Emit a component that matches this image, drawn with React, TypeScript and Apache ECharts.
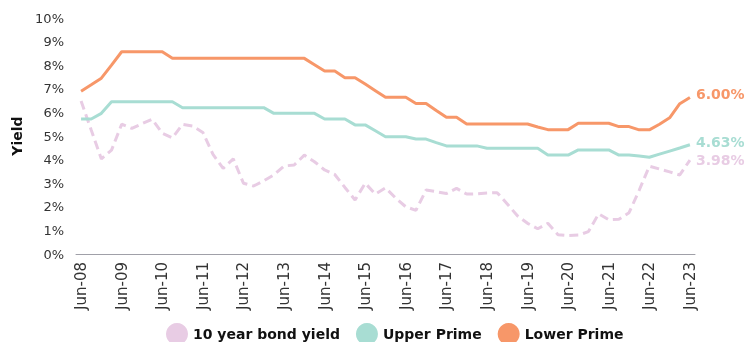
import React, { useEffect, useRef } from 'react';
import * as echarts from 'echarts';

const quarterMonths = ['Jun', 'Sep', 'Dec', 'Mar'];
const categories: string[] = [];
for (let i = 0; i <= 60; i++) {
  const m = quarterMonths[i % 4];
  const y = 8 + Math.floor(i / 4) + (i % 4 === 3 ? 1 : 0);
  categories.push(`${m}-${String(y).padStart(2, '0')}`);
}

const seriesNames = ['10 year bond yield', 'Upper Prime', 'Lower Prime'];

const bondYield = [
  6.48, 5.25, 4.03, 4.40, 5.50, 5.32, 5.52, 5.71, 5.12, 4.92,
  5.49, 5.42, 5.15, 4.22, 3.63, 4.03, 3.00, 2.88, 3.10, 3.35,
  3.73, 3.77, 4.19, 3.91, 3.56, 3.37, 2.82, 2.29, 3.00, 2.54,
  2.80, 2.37, 2.00, 1.85, 2.71, 2.64, 2.56, 2.78, 2.54, 2.55,
  2.58, 2.60, 2.12, 1.62, 1.30, 1.07, 1.30, 0.82, 0.78, 0.80,
  0.95, 1.70, 1.45, 1.47, 1.75, 2.70, 3.72, 3.60, 3.48, 3.35, 3.98,
];

const upperPrime = [
  5.72, 5.72, 5.96, 6.45, 6.45, 6.45, 6.45, 6.45, 6.45, 6.45,
  6.20, 6.20, 6.20, 6.20, 6.20, 6.20, 6.20, 6.20, 6.20, 5.96,
  5.96, 5.96, 5.96, 5.96, 5.72, 5.72, 5.72, 5.47, 5.47, 5.22,
  4.97, 4.97, 4.97, 4.87, 4.87, 4.72, 4.58, 4.58, 4.58, 4.58,
  4.48, 4.48, 4.48, 4.48, 4.48, 4.48, 4.19, 4.19, 4.19, 4.41,
  4.41, 4.41, 4.41, 4.19, 4.19, 4.15, 4.10, 4.23, 4.36, 4.49, 4.63,
];

const lowerPrime = [
  6.90, 7.17, 7.45, 8.00, 8.57, 8.57, 8.57, 8.57, 8.57, 8.29,
  8.29, 8.29, 8.29, 8.29, 8.29, 8.29, 8.29, 8.29, 8.29, 8.29,
  8.29, 8.29, 8.29, 8.02, 7.75, 7.75, 7.47, 7.47, 7.20, 6.92,
  6.64, 6.64, 6.64, 6.38, 6.38, 6.08, 5.79, 5.79, 5.51, 5.51,
  5.51, 5.51, 5.51, 5.51, 5.51, 5.38, 5.27, 5.27, 5.27, 5.54,
  5.54, 5.54, 5.54, 5.40, 5.40, 5.26, 5.26, 5.50, 5.77, 6.37, 6.63,
];

const endLabels = ['3.98%', '4.63%', '6.00%'];
const yTicks = { min: 0, max: 10, interval: 1 };

const colors = ['#E8CCE4', '#A8DDD3', '#F79769'];
const FONT = 'DejaVu Sans';

export default function App() {
  const ref = useRef<HTMLDivElement>(null);

  useEffect(() => {
    if (!ref.current) return;
    const chart = echarts.init(ref.current, undefined, { renderer: 'svg' });
    const dataSets = [bondYield, upperPrime, lowerPrime];
    const offsets = [[0, 0], [0, -3], [0, -4]];
    chart.setOption({
      animation: false,
      textStyle: { fontFamily: FONT },
      grid: { left: 76, right: 56, top: 18, bottom: 88 },
      legend: {
        data: seriesNames,
        left: 161,
        top: 318,
        icon: 'circle',
        itemWidth: 22,
        itemHeight: 22,
        itemGap: 16,
        textStyle: { fontFamily: FONT, fontSize: 14, fontWeight: 'bold', color: '#111' },
      },
      xAxis: {
        type: 'category',
        data: categories,
        boundaryGap: true,
        axisLine: { show: true, lineStyle: { color: '#A0A0A8', width: 1 } },
        axisTick: { show: false },
        axisLabel: {
          interval: 3,
          rotate: 90,
          fontFamily: FONT,
          fontSize: 15,
          color: '#333',
          margin: 8,
        },
        splitLine: { show: false },
      },
      yAxis: {
        type: 'value',
        min: yTicks.min,
        max: yTicks.max,
        interval: yTicks.interval,
        name: 'Yield',
        nameLocation: 'middle',
        nameGap: 47,
        nameTextStyle: { fontFamily: FONT, fontSize: 14, fontWeight: 'bold', color: '#111' },
        axisLine: { show: false },
        axisTick: { show: false },
        splitLine: { show: false },
        axisLabel: {
          formatter: '{value}%',
          fontFamily: FONT,
          fontSize: 13,
          color: '#333',
          margin: 12,
        },
      },
      series: seriesNames.map((name, k) => ({
        name,
        type: 'line',
        data: dataSets[k],
        symbol: 'none',
        smooth: false,
        color: colors[k],
        lineStyle: {
          color: colors[k],
          width: 3,
          type: k === 0 ? [9, 5] : 'solid',
        },
        endLabel: {
          show: true,
          formatter: () => endLabels[k],
          color: colors[k],
          fontFamily: FONT,
          fontSize: 14,
          fontWeight: 'bold',
          distance: 6,
          offset: offsets[k],
        },
        z: 2 + k,
      })),
    });
    return () => chart.dispose();
  }, []);

  return (
    <div
      ref={ref}
      style={{ position: 'fixed', left: 0, top: 0, width: 751, height: 342 }}
    />
  );
}
